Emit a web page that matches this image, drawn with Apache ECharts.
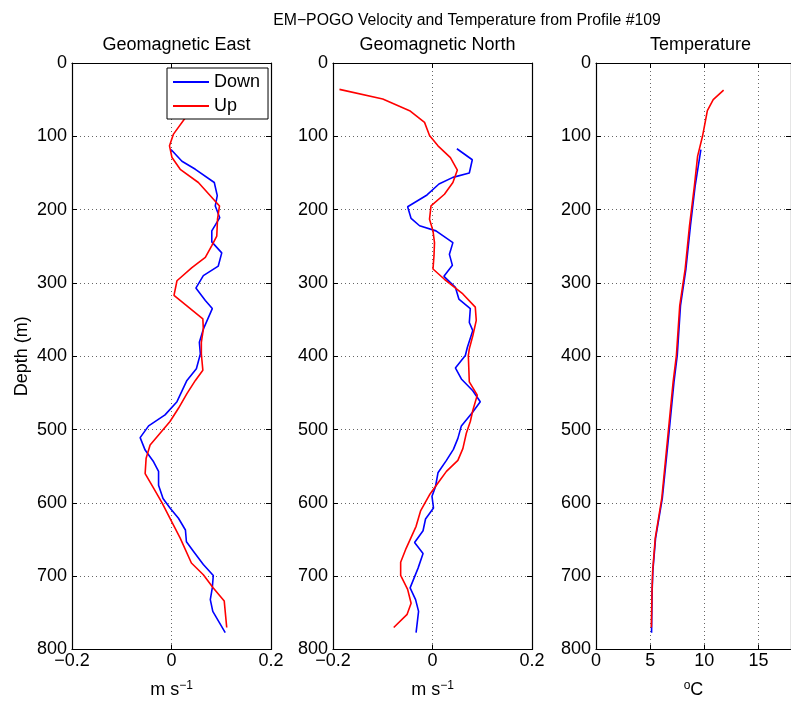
<!DOCTYPE html>
<html>
<head>
<meta charset="utf-8">
<script src="https://cdn.jsdelivr.net/npm/echarts@6/dist/echarts.min.js"></script>
<style>html,body{margin:0;padding:0;background:#fff}#c{width:791px;height:704px}</style>
</head>
<body>
<div id="c"></div>
<script>
// ---- Data ----
const depthTicks = [0,100,200,300,400,500,600,700,800];
const panelTitles = ['Geomagnetic East','Geomagnetic North','Temperature'];

const depthEastDown = [118,134,145,163,181,195,211,229,244,259,277,290,307,324,335,363,381,397,417,433,462,480,495,511,528,544,557,576,594,607,621,637,653,666,684,699,716,732,748,777];
const eastDown = [-0.001,0.021,0.048,0.086,0.092,0.088,0.097,0.081,0.081,0.101,0.094,0.064,0.049,0.068,0.082,0.064,0.056,0.058,0.050,0.031,0.011,-0.013,-0.046,-0.063,-0.053,-0.036,-0.026,-0.026,-0.017,-0.003,0.014,0.028,0.030,0.044,0.064,0.084,0.082,0.078,0.083,0.108];

const depthEastUp = [37,75,97,113,129,145,163,181,195,213,236,249,265,279,297,317,333,349,363,381,397,419,433,451,471,489,505,521,539,560,580,600,621,648,682,698,716,734,770];
const eastUp = [0.060,0.0275,0.004,-0.004,0.001,0.0175,0.054,0.078,0.0965,0.0925,0.091,0.081,0.068,0.041,0.011,0.005,0.034,0.063,0.064,0.060,0.060,0.063,0.048,0.031,0.014,-0.003,-0.023,-0.043,-0.051,-0.053,-0.036,-0.019,-0.003,0.0175,0.040,0.064,0.084,0.106,0.111];

const depthNorthDown = [117,132,150,156,165,180,196,212,222,229,245,261,276,291,306,322,335,354,365,388,399,416,431,447,462,476,495,512,527,542,559,578,591,607,622,638,654,669,689,716,732,748,777];
const northDown = [0.049,0.080,0.074,0.041,0.013,-0.011,-0.050,-0.043,-0.026,0.007,0.041,0.034,0.040,0.023,0.046,0.053,0.076,0.074,0.081,0.070,0.066,0.046,0.058,0.081,0.096,0.081,0.058,0.051,0.042,0.028,0.011,0.006,-0.001,0.002,-0.014,-0.019,-0.036,-0.019,-0.029,-0.045,-0.034,-0.028,-0.033];

const depthNorthUp = [36,49,65,81,99,113,129,146,163,179,195,213,229,245,263,281,295,315,333,351,372,390,399,435,453,474,489,505,526,542,557,573,589,611,632,662,681,699,718,737,752,770];
const northUp = [-0.187,-0.100,-0.046,-0.016,-0.006,0.011,0.036,0.050,0.041,0.024,-0.003,-0.006,0.001,0.004,0.003,0.001,0.024,0.061,0.086,0.088,0.081,0.074,0.072,0.074,0.090,0.081,0.076,0.068,0.061,0.051,0.028,0.011,-0.006,-0.024,-0.033,-0.053,-0.064,-0.064,-0.050,-0.043,-0.051,-0.078];

const depthTempDown = [118,168,222,281,331,399,435,503,594,648,693,721,777];
const tempDown = [9.68,9.15,8.72,8.30,7.80,7.50,7.20,6.75,6.12,5.50,5.25,5.18,5.13];

const depthTempUp = [37,50,65,100,127,168,222,281,331,399,435,503,594,648,693,721,770];
const tempUp = [11.78,10.82,10.28,9.83,9.38,9.08,8.63,8.23,7.73,7.42,7.12,6.67,6.07,5.47,5.23,5.17,5.11];

// ---- Chart ----
const FONT = 'Liberation Sans, Arial, Helvetica, sans-serif';
const FS = 18;
const gridLefts = [72, 333, 596];
const GW = 199, GT = 63, GH = 589;
const pair = (xs, ds) => ds.map((d, i) => [xs[i], d]);
const minusFmt = v => (v < 0 ? '\u2212' + Math.abs(v) : String(v));
const dotted = { show: true, lineStyle: { color: '#666', type: [1, 3], width: 1 } };
const axLine = { show: true, onZero: false, lineStyle: { color: '#000', width: 1.2 } };
const tick = { show: true, inside: true, length: 5, lineStyle: { color: '#000' } };

const grids = gridLefts.map(l => ({ left: l, top: GT, width: GW, height: GH, containLabel: false }));
const xRanges = [
  { min: -0.2, max: 0.2, interval: 0.2 },
  { min: -0.2, max: 0.2, interval: 0.2 },
  { min: 0, max: 18, interval: 5 }
];
const xNames = ['m s{sup|\u22121}', 'm s{sup|\u22121}', '{sup|o}C'];

const xAxes = [], yAxes = [];
for (let i = 0; i < 3; i++) {
  xAxes.push({
    type: 'value', gridIndex: i, position: 'bottom', ...xRanges[i],
    axisLine: axLine, axisTick: tick, splitLine: dotted,
    axisLabel: { show: true, color: '#000', fontFamily: FONT, fontSize: FS, margin: 3, formatter: minusFmt, showMaxLabel: i < 2 },
    name: xNames[i], nameLocation: 'middle', nameGap: 30,
    nameTextStyle: { color: '#000', fontFamily: FONT, fontSize: FS, rich: { sup: { fontSize: 12, verticalAlign: 'top', padding: [0, 0, 9, 0], fontFamily: FONT, color: '#000' } } }
  });
  xAxes.push({
    type: 'value', gridIndex: i, position: 'top', ...xRanges[i],
    axisLine: axLine, axisTick: tick, splitLine: { show: false }, axisLabel: { show: false }
  });
  yAxes.push({
    type: 'value', gridIndex: i, position: 'left', inverse: true, min: 0, max: 800, interval: 100,
    axisLine: axLine, axisTick: tick, splitLine: dotted,
    axisLabel: { color: '#000', fontFamily: FONT, fontSize: FS, margin: 5 },
    name: i === 0 ? 'Depth (m)' : '', nameLocation: 'middle', nameGap: 41, nameRotate: 90,
    nameTextStyle: { color: '#000', fontFamily: FONT, fontSize: FS }
  });
  yAxes.push({
    type: 'value', gridIndex: i, position: 'right', inverse: true, min: 0, max: 800, interval: 100,
    axisLine: axLine, axisTick: tick, splitLine: { show: false }, axisLabel: { show: false }
  });
}

function line(name, xs, ds, color, gi) {
  return {
    name, type: 'line', xAxisIndex: gi * 2, yAxisIndex: gi * 2, data: pair(xs, ds),
    showSymbol: false, symbol: 'none', lineStyle: { color, width: 1.6 }, itemStyle: { color },
    animation: false, z: name === 'Up' ? 3 : 2
  };
}

const series = [
  line('Down', eastDown, depthEastDown, '#0000ff', 0),
  line('Up', eastUp, depthEastUp, '#ff0000', 0),
  line('Down', northDown, depthNorthDown, '#0000ff', 1),
  line('Up', northUp, depthNorthUp, '#ff0000', 1),
  line('Down', tempDown, depthTempDown, '#0000ff', 2),
  line('Up', tempUp, depthTempUp, '#ff0000', 2)
];

const titles = [
  { text: 'EM\u2212POGO Velocity and Temperature from Profile #109', left: 462, top: 8, textAlign: 'center',
    textStyle: { fontFamily: FONT, fontSize: 15.8, fontWeight: 'normal', color: '#000' } }
].concat(panelTitles.map((t, i) => ({
  text: t, left: gridLefts[i] + GW / 2, top: 31, textAlign: 'center',
  textStyle: { fontFamily: FONT, fontSize: FS, fontWeight: 'normal', color: '#000' }
})));

const chart = echarts.init(document.getElementById('c'), null, { renderer: 'canvas' });
chart.setOption({
  animation: false,
  backgroundColor: '#fff',
  title: titles,
  grid: grids,
  xAxis: xAxes,
  yAxis: yAxes,
  legend: {
    data: ['Down', 'Up'], orient: 'vertical', left: 167, top: 68,
    icon: 'rect', itemWidth: 36, itemHeight: 2, itemGap: 6,
    backgroundColor: '#fff', borderColor: '#000', borderWidth: 1, borderRadius: 0,
    padding: [5, 8, 4, 6],
    textStyle: { fontFamily: FONT, fontSize: FS, color: '#000', padding: [0, 0, 0, 0] },
    selectedMode: false
  },
  series
});
</script>
</body>
</html>
